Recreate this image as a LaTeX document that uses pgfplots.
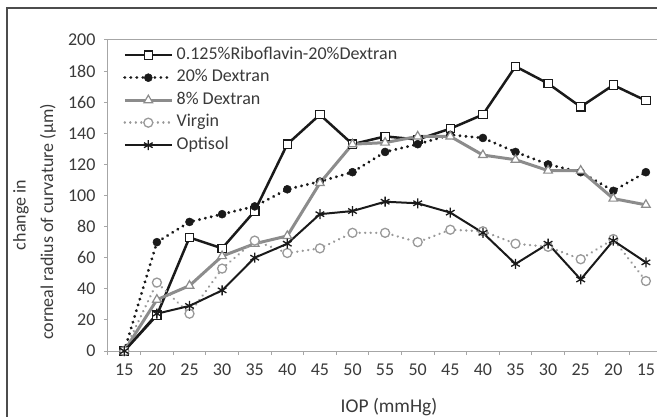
\documentclass[border=0pt]{standalone}
\usepackage{fontspec}
\setmainfont{Carlito}
\usepackage{pgfplots}
\pgfplotsset{compat=1.18}
\definecolor{txt}{HTML}{3A3A3A}
\definecolor{gA}{HTML}{8C8C8C}
\definecolor{gB}{HTML}{999999}
\definecolor{axisgray}{HTML}{A6A6A6}
\definecolor{serblack}{HTML}{1A1A1A}

\begin{document}
\begin{tikzpicture}
\path[use as bounding box] (-108bp,-66bp) rectangle (549bp,351bp);
\draw[color=black!70, line width=1.5bp] (-101bp,-80bp) -- (-101bp,343bp) -- (570bp,343bp);
\begin{axis}[
  at={(0,0)}, anchor=south west, scale only axis,
  width=554.2bp, height=311bp,
  xmin=-0.5, xmax=16.5, ymin=0, ymax=200,
  xtick={-0.5,0.5,...,16.5},
  x tick label as interval,
  xticklabels={15,20,25,30,35,40,45,50,55,50,45,40,35,30,25,20,15},
  ytick={0,20,...,200},
  tick align=outside, major tick length=4bp, tick pos=left,
  axis line style={axisgray, line width=1bp},
  tick style={axisgray, line width=1bp},
  ticklabel style={font=\fontsize{18bp}{20bp}\selectfont, text=txt},
  /pgf/number format/assume math mode=true,
  yticklabel style={xshift=-5bp},
  xticklabel style={yshift=-5bp},
  clip=false,
  legend cell align=left,
  legend style={draw=none, fill=none, at={(0.0271,0.988)}, anchor=north west,
    font=\fontsize{18bp}{20bp}\selectfont, text=txt, row sep=0pt, inner sep=0pt,
    column sep=0pt,
    nodes={inner sep=3.25bp, text height=12bp, text depth=4bp}},
  legend image code/.code={\draw[mark repeat=2,mark phase=2,#1] plot coordinates {(0bp,0bp) (23.5bp,0bp) (47bp,0bp)};},
]
\addplot[serblack, line width=2.5bp, mark=square*, mark size=4.2bp, mark options={solid, fill=white, line width=1.2bp}]
 coordinates {(0,0)(1,23)(2,73)(3,66)(4,90)(5,133)(6,152)(7,133)(8,138)(9,136)(10,143)(11,152)(12,183)(13,172)(14,157)(15,171)(16,161)};
\addlegendentry{0.125\%Riboflavin-20\%Dextran}
\addplot[serblack, line width=3.2bp, line cap=round, dash pattern=on 0.01bp off 6bp, mark=*, mark size=4bp, mark options={solid, fill=serblack, line width=0.5bp}]
 coordinates {(0,0)(1,70)(2,83)(3,88)(4,93)(5,104)(6,109)(7,115)(8,128)(9,133)(10,139)(11,137)(12,128)(13,120)(14,115)(15,103)(16,115)};
\addlegendentry{20\% Dextran}
\addplot[gA, line width=3bp, mark=triangle*, mark size=5bp, mark options={solid, fill=white, line width=1.2bp}]
 coordinates {(0,0)(1,33)(2,42)(3,61)(4,69)(5,74)(6,108)(7,133)(8,134)(9,138)(10,138)(11,126)(12,123)(13,116)(14,116)(15,98)(16,94)};
\addlegendentry{8\% Dextran}
\addplot[gB, line width=2.6bp, line cap=round, dash pattern=on 0.01bp off 5.5bp, mark=*, mark size=4.5bp, mark options={solid, fill=white, draw=gB, line width=1.3bp}]
 coordinates {(0,0)(1,44)(2,24)(3,53)(4,71)(5,63)(6,66)(7,76)(8,76)(9,70)(10,78)(11,77)(12,69)(13,67)(14,59)(15,72)(16,45)};
\addlegendentry{Virgin}
\addplot[serblack, line width=2bp, mark=asterisk, mark size=5bp, mark options={solid, line width=1.3bp}]
 coordinates {(0,0)(1,24)(2,29)(3,39)(4,60)(5,69)(6,88)(7,90)(8,96)(9,95)(10,89)(11,76)(12,56)(13,69)(14,46)(15,71)(16,57)};
\addlegendentry{Optisol}
\end{axis}
\node[font=\fontsize{19.5bp}{22bp}\selectfont, text=txt] at (281bp,-56bp) {IOP (mmHg)};
\node[font=\fontsize{18bp}{20bp}\selectfont, text=txt, rotate=90] at (-87bp,136bp) {change in};
\node[font=\fontsize{18bp}{20bp}\selectfont, text=txt, rotate=90] at (-60bp,129bp) {corneal radius of curvature (μm)};
\end{tikzpicture}
\end{document}
